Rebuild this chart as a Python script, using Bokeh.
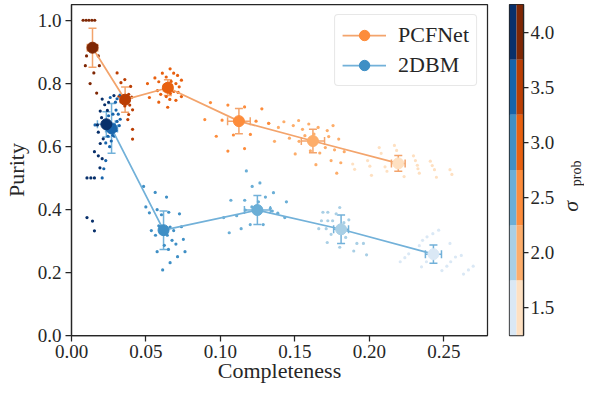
from math import pi
from bokeh.plotting import figure
from bokeh.models import (Range1d, FixedTicker, PrintfTickFormatter, Whisker, TeeHead,
                          ColumnDataSource, Legend, LegendItem, Label)
from bokeh.layouts import row
from bokeh.embed import file_html
from bokeh.resources import INLINE

FONT = "Liberation Serif"
INK = "#262626"

# ---------------- data ----------------
sigmas = [1.5, 2.0, 2.5, 3.0, 3.5, 4.0]
blues = ["#dae8f5", "#a9cfe5", "#6aaed6", "#3f8fc5", "#1764ab", "#08306b"]
oranges = ["#fee0c1", "#fdad6a", "#fd8c3b", "#e8600f", "#bb3e03", "#7f2704"]

x_ticks = [0.0, 0.05, 0.10, 0.15, 0.20, 0.25]
y_ticks = [0.0, 0.2, 0.4, 0.6, 0.8, 1.0]
cbar_ticks = [1.5, 2.0, 2.5, 3.0, 3.5, 4.0]

# mean points (order: sigma 1.5 .. 4.0)
pcf_mean_x = [0.2194, 0.1621, 0.1124, 0.0647, 0.0360, 0.0141]
pcf_mean_y = [0.546, 0.617, 0.680, 0.786, 0.748, 0.913]
pcf_err_x = [0.0046, 0.0078, 0.0076, 0.0030, 0.0020, 0.0035]
pcf_err_y = [0.025, 0.037, 0.040, 0.025, 0.040, 0.062]

dbm_mean_x = [0.2430, 0.1810, 0.1248, 0.0618, 0.0269, 0.0234]
dbm_mean_y = [0.258, 0.337, 0.398, 0.334, 0.657, 0.670]
dbm_err_x = [0.0054, 0.0050, 0.0087, 0.0026, 0.0040, 0.0060]
dbm_err_y = [0.029, 0.045, 0.046, 0.061, 0.079, 0.040]

# individual runs, PCFNet
pcf_x_15 = [0.1888, 0.1901, 0.1988, 0.2003, 0.2014, 0.2066, 0.2079, 0.2105, 0.2118, 0.2168, 0.2183, 0.2233,
            0.2296, 0.2309, 0.2322, 0.2326, 0.2335, 0.2409, 0.2422, 0.2437, 0.2450, 0.2541, 0.2554]
pcf_y_15 = [0.544, 0.527, 0.555, 0.537, 0.508, 0.596, 0.578, 0.535, 0.521, 0.603, 0.587, 0.504,
            0.570, 0.555, 0.540, 0.529, 0.515, 0.553, 0.539, 0.526, 0.502, 0.526, 0.511]
pcf_x_20 = [0.1324, 0.1389, 0.1426, 0.1363, 0.1463, 0.1489, 0.1525, 0.1551, 0.1593, 0.1567, 0.1656, 0.1628,
            0.1717, 0.1756, 0.1727, 0.1502, 0.1528, 0.1604, 0.1667, 0.1704, 0.1766, 0.1794, 0.1831, 0.1641,
            0.1743, 0.1808, 0.1781]
pcf_y_20 = [0.673, 0.660, 0.678, 0.616, 0.626, 0.666, 0.682, 0.654, 0.671, 0.634, 0.660, 0.639,
            0.650, 0.666, 0.631, 0.576, 0.616, 0.586, 0.579, 0.596, 0.589, 0.623, 0.583, 0.542,
            0.555, 0.548, 0.515]
pcf_x_25 = [0.0933, 0.1050, 0.1162, 0.1278, 0.0895, 0.1011, 0.1239, 0.1324, 0.0972, 0.1087, 0.1201,
            0.1050, 0.1162]
pcf_y_25 = [0.739, 0.731, 0.725, 0.719, 0.685, 0.683, 0.680, 0.673, 0.632, 0.636, 0.638, 0.585, 0.593]
pcf_x_30 = [0.0662, 0.0610, 0.0686, 0.0636, 0.0712, 0.0560, 0.0586, 0.0669, 0.0738, 0.0701, 0.0510, 0.0625,
            0.0723, 0.0686, 0.0716, 0.0577, 0.0599, 0.0664, 0.0738, 0.0636, 0.0523, 0.0660, 0.0701, 0.0586,
            0.0646]
pcf_y_30 = [0.846, 0.832, 0.832, 0.820, 0.825, 0.817, 0.805, 0.806, 0.810, 0.799, 0.799, 0.794,
            0.789, 0.774, 0.771, 0.777, 0.765, 0.768, 0.758, 0.758, 0.755, 0.749, 0.746, 0.740,
            0.724]
pcf_x_35 = [0.0306, 0.0358, 0.0332, 0.0397, 0.0384, 0.0404, 0.0358, 0.0391, 0.0410, 0.0384, 0.0378, 0.0410,
            0.0410, 0.0332, 0.0319]
pcf_y_35 = [0.833, 0.812, 0.802, 0.790, 0.765, 0.756, 0.728, 0.731, 0.716, 0.701, 0.685, 0.654,
            0.623, 0.741, 0.759]
pcf_x_40 = [0.0078, 0.0098, 0.0117, 0.0137, 0.0156, 0.0169, 0.0101, 0.0180, 0.0093, 0.0187, 0.0150, 0.0125,
            0.0169, 0.0130]
pcf_y_40 = [1.0, 1.0, 1.0, 1.0, 1.0, 0.920, 0.887, 0.887, 0.856, 0.856, 0.833, 0.799, 0.769, 0.910]

# individual runs, 2DBM
dbm_x_15 = [0.2465, 0.2426, 0.2387, 0.2357, 0.2335, 0.2264, 0.2238, 0.2207, 0.2541, 0.2383, 0.2350, 0.2520,
            0.2546, 0.2578, 0.2617, 0.2487, 0.2632, 0.2665, 0.2697]
dbm_y_15 = [0.334, 0.323, 0.313, 0.302, 0.285, 0.259, 0.247, 0.234, 0.292, 0.234, 0.218, 0.220,
            0.234, 0.249, 0.254, 0.206, 0.195, 0.208, 0.220]
dbm_x_20 = [0.1688, 0.1721, 0.1801, 0.1678, 0.1721, 0.1753, 0.1862, 0.1660, 0.1710, 0.1743, 0.1717, 0.1801,
            0.1841, 0.1916, 0.1960, 0.1895, 0.1981, 0.1777, 0.1829]
dbm_y_20 = [0.391, 0.391, 0.406, 0.364, 0.364, 0.364, 0.367, 0.339, 0.339, 0.321, 0.295, 0.280,
            0.311, 0.292, 0.292, 0.268, 0.256, 0.386, 0.358]
dbm_x_25 = [0.1174, 0.1265, 0.1213, 0.1356, 0.1070, 0.1163, 0.1302, 0.1255, 0.1443, 0.1211, 0.1167, 0.1335,
            0.1385, 0.1432, 0.1022, 0.1109, 0.1200, 0.1287, 0.1139, 0.1059, 0.1348]
dbm_y_25 = [0.522, 0.484, 0.473, 0.453, 0.429, 0.429, 0.439, 0.424, 0.424, 0.408, 0.398, 0.403,
            0.388, 0.374, 0.374, 0.380, 0.352, 0.352, 0.339, 0.326, 0.395]
dbm_x_30 = [0.0484, 0.0562, 0.0638, 0.0499, 0.0575, 0.0523, 0.0604, 0.0653, 0.0725, 0.0586, 0.0662, 0.0738,
            0.0536, 0.0686, 0.0564, 0.0643, 0.0675, 0.0701, 0.0751, 0.0623, 0.0575, 0.0651, 0.0762, 0.0712,
            0.0662, 0.0612]
dbm_y_30 = [0.473, 0.454, 0.439, 0.408, 0.399, 0.389, 0.383, 0.391, 0.386, 0.348, 0.344, 0.345,
            0.333, 0.333, 0.318, 0.318, 0.302, 0.290, 0.305, 0.286, 0.266, 0.273, 0.266, 0.250,
            0.231, 0.208]
dbm_x_35 = [0.0260, 0.0306, 0.0326, 0.0295, 0.0299, 0.0278, 0.0314, 0.0306, 0.0321, 0.0299, 0.0245, 0.0288,
            0.0278, 0.0230, 0.0267, 0.0256, 0.0230, 0.0217, 0.0206, 0.0327, 0.0158, 0.0249]
dbm_y_35 = [0.755, 0.751, 0.763, 0.740, 0.715, 0.702, 0.702, 0.679, 0.666, 0.650, 0.632, 0.632,
            0.635, 0.611, 0.617, 0.599, 0.555, 0.529, 0.500, 0.686, 0.668, 0.697]
dbm_x_40 = [0.0206, 0.0223, 0.0193, 0.0241, 0.0202, 0.0174, 0.0180, 0.0213, 0.0193, 0.0154, 0.0180, 0.0206,
            0.0191, 0.0104, 0.0130, 0.0154, 0.0104, 0.0141, 0.0154, 0.0285, 0.0249]
dbm_y_40 = [0.750, 0.732, 0.712, 0.714, 0.691, 0.668, 0.645, 0.624, 0.609, 0.583, 0.570, 0.561,
            0.532, 0.500, 0.500, 0.500, 0.374, 0.363, 0.332, 0.761, 0.740]

pcf_runs = [(pcf_x_15, pcf_y_15), (pcf_x_20, pcf_y_20), (pcf_x_25, pcf_y_25),
            (pcf_x_30, pcf_y_30), (pcf_x_35, pcf_y_35), (pcf_x_40, pcf_y_40)]
dbm_runs = [(dbm_x_15, dbm_y_15), (dbm_x_20, dbm_y_20), (dbm_x_25, dbm_y_25),
            (dbm_x_30, dbm_y_30), (dbm_x_35, dbm_y_35), (dbm_x_40, dbm_y_40)]

ORANGE_LINE = "#f3a46c"
BLUE_LINE = "#72b1d9"
TOP, BOTTOM = 4, 50
H = 385

# ---------------- main figure ----------------
p = figure(width=499, height=H, x_range=Range1d(0, 0.2793), y_range=Range1d(0, 1.05),
           output_backend="svg", toolbar_location=None,
           min_border_left=69, min_border_right=12, min_border_top=TOP, min_border_bottom=BOTTOM)
p.grid.visible = False
p.outline_line_color = INK
p.outline_line_width = 1.25

p.xaxis.ticker = FixedTicker(ticks=x_ticks)
p.yaxis.ticker = FixedTicker(ticks=y_ticks)
p.xaxis.formatter = PrintfTickFormatter(format="%.2f")
p.yaxis.formatter = PrintfTickFormatter(format="%.1f")
p.xaxis.axis_label = "Completeness"
p.yaxis.axis_label = "Purity"
for ax in (p.xaxis, p.yaxis):
    ax.axis_label_text_font = FONT
    ax.axis_label_text_font_size = "22px"
    ax.axis_label_text_font_style = "normal"
    ax.axis_label_text_color = INK
    ax.major_label_text_font = FONT
    ax.major_label_text_font_size = "19px"
    ax.major_label_text_color = INK
    ax.major_tick_out = 6
    ax.major_tick_in = 0
    ax.minor_tick_out = 0
    ax.minor_tick_in = 0
    ax.major_tick_line_color = INK
    ax.major_tick_line_width = 1.25
    ax.axis_line_color = INK
    ax.axis_line_width = 1.25
p.xaxis.major_label_standoff = 3
p.xaxis.axis_label_standoff = -3
p.yaxis.major_label_standoff = 4
p.yaxis.axis_label_standoff = 6

# run scatter
for i in range(len(sigmas)):
    px, py = pcf_runs[i]
    p.scatter(px, py, marker="circle", size=3.2, fill_color=oranges[i], line_color=None)
    bx, by = dbm_runs[i]
    p.scatter(bx, by, marker="circle", size=3.2, fill_color=blues[i], line_color=None)

def series(mx, my, ex, ey, line_color, cols):
    src = ColumnDataSource(dict(
        x=mx, y=my, c=cols,
        xl=[a - e for a, e in zip(mx, ex)], xu=[a + e for a, e in zip(mx, ex)],
        yl=[a - e for a, e in zip(my, ey)], yu=[a + e for a, e in zip(my, ey)]))
    ln = p.line("x", "y", source=src, line_color=line_color, line_width=1.75)
    for dim, base, lo, hi in (("width", "y", "xl", "xu"), ("height", "x", "yl", "yu")):
        w = Whisker(source=src, base=base, lower=lo, upper=hi, dimension=dim,
                    line_color=line_color, line_width=1.5, level="underlay",
                    upper_head=TeeHead(size=8, line_color=line_color, line_width=1.5),
                    lower_head=TeeHead(size=8, line_color=line_color, line_width=1.5))
        p.add_layout(w)
    mk = p.scatter("x", "y", source=src, marker="circle", size=11, fill_color="c", line_color="c")
    return ln, mk

o_ln, o_mk = series(pcf_mean_x, pcf_mean_y, pcf_err_x, pcf_err_y, ORANGE_LINE, oranges)
b_ln, b_mk = series(dbm_mean_x, dbm_mean_y, dbm_err_x, dbm_err_y, BLUE_LINE, blues)

legend = Legend(items=[LegendItem(label="PCFNet", renderers=[o_ln, o_mk], index=2),
                       LegendItem(label="2DBM", renderers=[b_ln, b_mk], index=3)],
                location="top_right", margin=10, padding=7, spacing=4,
                glyph_width=44, glyph_height=26, label_standoff=12,
                label_text_font=FONT, label_text_font_size="22px", label_text_color=INK,
                border_line_color="#d0d0d0", border_line_width=1,
                background_fill_color="white", background_fill_alpha=0.85)
if "border_radius" in Legend.properties():
    legend.border_radius = 4
p.add_layout(legend)

# ---------------- colour bar ----------------
cb = figure(width=58, height=H, x_range=Range1d(0, 2), y_range=Range1d(1.25, 4.25),
            output_backend="svg", toolbar_location=None, x_axis_location=None,
            y_axis_location="right",
            min_border_left=10, min_border_right=31, min_border_top=TOP, min_border_bottom=BOTTOM)
cb.grid.visible = False
cb.outline_line_color = INK
cb.outline_line_width = 1.25
half = 0.25
cb.quad(left=0, right=1, bottom=[s - half for s in sigmas], top=[s + half for s in sigmas],
        fill_color=blues, line_color=None)
cb.quad(left=1, right=2, bottom=[s - half for s in sigmas], top=[s + half for s in sigmas],
        fill_color=oranges, line_color=None)
ya = cb.yaxis
ya.ticker = FixedTicker(ticks=cbar_ticks)
ya.formatter = PrintfTickFormatter(format="%.1f")
ya.major_label_text_font = FONT
ya.major_label_text_font_size = "19px"
ya.major_label_text_color = INK
ya.major_tick_out = 5
ya.major_tick_in = 0
ya.minor_tick_out = 0
ya.minor_tick_in = 0
ya.major_tick_line_color = INK
ya.major_tick_line_width = 1.25
ya.axis_line_color = INK
ya.axis_line_width = 1.25
ya.major_label_standoff = 2

# ---------------- colour-bar title ----------------
LW = 27
lab = figure(width=LW, height=H, x_range=Range1d(0, LW), y_range=Range1d(1.25, 4.25),
             output_backend="svg", toolbar_location=None, x_axis_location=None, y_axis_location=None,
             min_border_left=0, min_border_right=0, min_border_top=TOP, min_border_bottom=BOTTOM)
lab.grid.visible = False
lab.outline_line_color = None
lab.add_layout(Label(x=13, y=2.42, text="σ", angle=pi / 2, text_font=FONT,
                     text_font_size="22px", text_font_style="italic", text_color=INK,
                     text_align="center", text_baseline="middle"))
lab.add_layout(Label(x=18.5, y=2.72, text="prob", angle=pi / 2, text_font=FONT,
                     text_font_size="14px", text_color=INK,
                     text_align="center", text_baseline="middle"))

layout = row(p, cb, lab)
open("out.html", "w").write(file_html(layout, INLINE))
